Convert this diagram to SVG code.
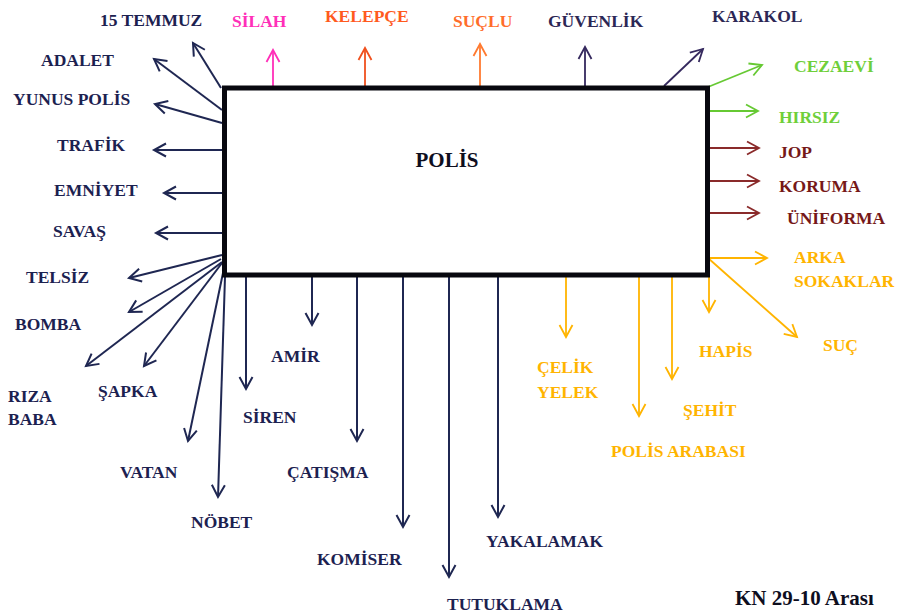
<svg xmlns="http://www.w3.org/2000/svg" width="898" height="616" viewBox="0 0 898 616">
  <style>
    text { font-family: "Liberation Serif", "Times New Roman", serif; font-weight: bold; font-size: 17.5px; }
    .navy { fill: #1c2150; }
    .pink { fill: #ff2fb8; }
    .ored { fill: #ff5a1e; }
    .orange { fill: #ff6d2a; }
    .purple { fill: #2c2755; }
    .green { fill: #6fcf3a; }
    .dred { fill: #761818; }
    .amber { fill: #ffb400; }
    .c { fill: none; stroke-width: 1.8; }
    .c-navy { stroke: #1f2752; marker-end: url(#m-navy); stroke-width: 2; }
    .c-pink { stroke: #ff2fb8; marker-end: url(#m-pink); }
    .c-ored { stroke: #f0501e; marker-end: url(#m-ored); }
    .c-orange { stroke: #ff7a30; marker-end: url(#m-orange); }
    .c-purple { stroke: #35295e; marker-end: url(#m-purple); }
    .c-green { stroke: #66c933; marker-end: url(#m-green); }
    .c-dred { stroke: #8a2a2a; marker-end: url(#m-dred); }
    .c-amber { stroke: #ffb400; marker-end: url(#m-amber); }
  </style>
  <defs>
    <marker id="m-navy" viewBox="-14 -9 17 18" refX="0" refY="0" markerWidth="17" markerHeight="18" markerUnits="userSpaceOnUse" orient="auto">
      <path d="M-12,-6.5 L0,0 L-12,6.5" fill="none" stroke="#1f2752" stroke-width="2"/>
    </marker>
    <marker id="m-pink" viewBox="-14 -9 17 18" refX="0" refY="0" markerWidth="17" markerHeight="18" markerUnits="userSpaceOnUse" orient="auto">
      <path d="M-12,-6.5 L0,0 L-12,6.5" fill="none" stroke="#ff2fb8" stroke-width="1.8"/>
    </marker>
    <marker id="m-ored" viewBox="-14 -9 17 18" refX="0" refY="0" markerWidth="17" markerHeight="18" markerUnits="userSpaceOnUse" orient="auto">
      <path d="M-12,-6.5 L0,0 L-12,6.5" fill="none" stroke="#f0501e" stroke-width="1.8"/>
    </marker>
    <marker id="m-orange" viewBox="-14 -9 17 18" refX="0" refY="0" markerWidth="17" markerHeight="18" markerUnits="userSpaceOnUse" orient="auto">
      <path d="M-12,-6.5 L0,0 L-12,6.5" fill="none" stroke="#ff7a30" stroke-width="1.8"/>
    </marker>
    <marker id="m-purple" viewBox="-14 -9 17 18" refX="0" refY="0" markerWidth="17" markerHeight="18" markerUnits="userSpaceOnUse" orient="auto">
      <path d="M-12,-6.5 L0,0 L-12,6.5" fill="none" stroke="#35295e" stroke-width="1.8"/>
    </marker>
    <marker id="m-green" viewBox="-14 -9 17 18" refX="0" refY="0" markerWidth="17" markerHeight="18" markerUnits="userSpaceOnUse" orient="auto">
      <path d="M-12,-6.5 L0,0 L-12,6.5" fill="none" stroke="#66c933" stroke-width="1.8"/>
    </marker>
    <marker id="m-dred" viewBox="-14 -9 17 18" refX="0" refY="0" markerWidth="17" markerHeight="18" markerUnits="userSpaceOnUse" orient="auto">
      <path d="M-12,-6.5 L0,0 L-12,6.5" fill="none" stroke="#8a2a2a" stroke-width="1.8"/>
    </marker>
    <marker id="m-amber" viewBox="-14 -9 17 18" refX="0" refY="0" markerWidth="17" markerHeight="18" markerUnits="userSpaceOnUse" orient="auto">
      <path d="M-12,-6.5 L0,0 L-12,6.5" fill="none" stroke="#ffb400" stroke-width="1.8"/>
    </marker>
  </defs>

  <rect width="898" height="616" fill="#ffffff"/>

  <!-- connectors: every arrow leaves the central box -->
  <g id="connectors" class="c">
    <!-- top edge -->
    <line class="c c-pink" x1="273" y1="88" x2="273" y2="50"/>
    <line class="c c-ored" x1="365" y1="88" x2="365" y2="48"/>
    <line class="c c-orange" x1="480" y1="88" x2="480" y2="44"/>
    <line class="c c-purple" x1="585" y1="88" x2="585" y2="47"/>
    <line class="c c-purple" x1="664" y1="86" x2="703" y2="49"/>
    <!-- left edge -->
    <line class="c c-navy" x1="221" y1="88" x2="193" y2="43"/>
    <line class="c c-navy" x1="222" y1="110" x2="154" y2="59"/>
    <line class="c c-navy" x1="222" y1="123" x2="155" y2="104"/>
    <line class="c c-navy" x1="222" y1="150" x2="154" y2="150"/>
    <line class="c c-navy" x1="222" y1="193" x2="164" y2="193"/>
    <line class="c c-navy" x1="222" y1="233" x2="156" y2="233"/>
    <!-- lower-left fan -->
    <line class="c c-navy" x1="222" y1="255" x2="129" y2="278"/>
    <line class="c c-navy" x1="221" y1="259" x2="129" y2="312"/>
    <line class="c c-navy" x1="222" y1="262" x2="86" y2="366"/>
    <line class="c c-navy" x1="222" y1="263" x2="144" y2="366"/>
    <line class="c c-navy" x1="223" y1="273" x2="188" y2="441"/>
    <line class="c c-navy" x1="225" y1="277" x2="218" y2="497"/>
    <!-- bottom edge -->
    <line class="c c-navy" x1="246" y1="277" x2="246" y2="389"/>
    <line class="c c-navy" x1="312" y1="277" x2="312" y2="325"/>
    <line class="c c-navy" x1="357" y1="277" x2="357" y2="441"/>
    <line class="c c-navy" x1="403" y1="277" x2="403" y2="527"/>
    <line class="c c-navy" x1="449" y1="277" x2="449" y2="577"/>
    <line class="c c-navy" x1="498" y1="277" x2="498" y2="517"/>
    <line class="c c-amber" x1="566" y1="277" x2="566" y2="337"/>
    <line class="c c-amber" x1="639" y1="277" x2="639" y2="416"/>
    <line class="c c-amber" x1="672" y1="277" x2="672" y2="379"/>
    <line class="c c-amber" x1="709" y1="260" x2="709" y2="312"/>
    <line class="c c-amber" x1="708" y1="258" x2="797" y2="337"/>
    <line class="c c-amber" x1="708" y1="258" x2="767" y2="258"/>
    <!-- right edge -->
    <line class="c c-green" x1="708" y1="87" x2="762" y2="65"/>
    <line class="c c-green" x1="708" y1="111" x2="758" y2="111"/>
    <line class="c c-dred" x1="710" y1="148" x2="759" y2="148"/>
    <line class="c c-dred" x1="710" y1="181" x2="759" y2="181"/>
    <line class="c c-dred" x1="710" y1="213" x2="759" y2="213"/>
  </g>

  <!-- central concept -->
  <g id="polis">
    <rect x="224.5" y="88" width="483" height="187" fill="#ffffff" stroke="#08080f" stroke-width="5"/>
    <text x="447" y="167" text-anchor="middle" class="navy" style="font-size:21px; fill:#0e0e1e">POLİS</text>
  </g>

  <!-- associated words -->
  <g id="silah"><text x="232" y="27" class="pink">SİLAH</text></g>
  <g id="kelepce"><text x="325" y="22" class="ored">KELEPÇE</text></g>
  <g id="suclu"><text x="453" y="27" class="orange">SUÇLU</text></g>
  <g id="guvenlik"><text x="548" y="27" class="purple">GÜVENLİK</text></g>
  <g id="karakol"><text x="712" y="22" class="purple">KARAKOL</text></g>

  <g id="temmuz"><text x="100" y="26" class="navy">15 TEMMUZ</text></g>
  <g id="adalet"><text x="41" y="66" class="navy">ADALET</text></g>
  <g id="yunus-polis"><text x="13" y="105" class="navy">YUNUS POLİS</text></g>
  <g id="trafik"><text x="57" y="151" class="navy">TRAFİK</text></g>
  <g id="emniyet"><text x="54" y="196" class="navy">EMNİYET</text></g>
  <g id="savas"><text x="53" y="237" class="navy">SAVAŞ</text></g>
  <g id="telsiz"><text x="26" y="283" class="navy">TELSİZ</text></g>
  <g id="bomba"><text x="15" y="330" class="navy">BOMBA</text></g>
  <g id="riza-baba"><text x="8" y="402" class="navy">RIZA</text><text x="8" y="425" class="navy">BABA</text></g>
  <g id="sapka"><text x="98" y="397" class="navy">ŞAPKA</text></g>
  <g id="vatan"><text x="120" y="478" class="navy">VATAN</text></g>
  <g id="nobet"><text x="191" y="528" class="navy">NÖBET</text></g>
  <g id="siren"><text x="243" y="423" class="navy">SİREN</text></g>
  <g id="amir"><text x="271" y="362" class="navy">AMİR</text></g>
  <g id="catisma"><text x="287" y="478" class="navy">ÇATIŞMA</text></g>
  <g id="komiser"><text x="317" y="565" class="navy">KOMİSER</text></g>
  <g id="tutuklama"><text x="447" y="610" class="navy">TUTUKLAMA</text></g>
  <g id="yakalamak"><text x="486" y="547" class="navy">YAKALAMAK</text></g>

  <g id="celik-yelek"><text x="537" y="373" class="amber">ÇELİK</text><text x="537" y="398" class="amber">YELEK</text></g>
  <g id="polis-arabasi"><text x="611" y="457" class="amber">POLİS ARABASI</text></g>
  <g id="sehit"><text x="683" y="416" class="amber">ŞEHİT</text></g>
  <g id="hapis"><text x="699" y="357" class="amber">HAPİS</text></g>
  <g id="suc"><text x="823" y="351" class="amber">SUÇ</text></g>
  <g id="arka-sokaklar"><text x="794" y="263" class="amber">ARKA</text><text x="794" y="287" class="amber">SOKAKLAR</text></g>

  <g id="cezaevi"><text x="794" y="72" class="green">CEZAEVİ</text></g>
  <g id="hirsiz"><text x="779" y="123" class="green">HIRSIZ</text></g>
  <g id="jop"><text x="779" y="158" class="dred">JOP</text></g>
  <g id="koruma"><text x="779" y="192" class="dred">KORUMA</text></g>
  <g id="uniforma"><text x="787" y="224" class="dred">ÜNİFORMA</text></g>

  <g id="kaynak"><text x="735" y="605" style="font-size:21px; fill:#0e0e1e">KN 29-10 Arası</text></g>
</svg>
